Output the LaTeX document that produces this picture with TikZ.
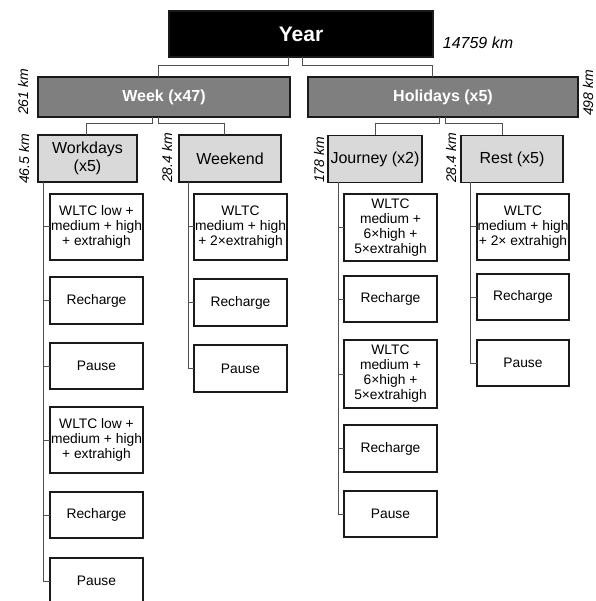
\documentclass[tikz,border=0pt]{standalone}
\usepackage{fontspec}
\setmainfont{Liberation Sans}
\definecolor{midgray}{HTML}{7F7F7F}
\definecolor{paleg}{HTML}{D9D9D9}
\definecolor{linkgray}{HTML}{505050}
\definecolor{edge}{HTML}{1A1A1A}
\begin{document}
\begin{tikzpicture}[x=1pt,y=-1pt,
  every node/.style={inner sep=0pt,outer sep=0pt},
  box/.style={draw=edge,line width=1.3pt,rectangle,align=center},
  topbox/.style={box,fill=black,text=white,font=\fontsize{21}{24}\selectfont\bfseries},
  midbox/.style={box,fill=midgray,text=white,font=\fontsize{16}{18}\selectfont\bfseries},
  subbox/.style={box,fill=paleg,font=\fontsize{16}{18}\selectfont},
  leaf/.style={box,fill=white,font=\fontsize{13.8}{15}\selectfont},
  kmlab/.style={font=\fontsize{14}{16}\selectfont\itshape,rotate=90},
  link/.style={draw=linkgray,line width=1pt}]
\useasboundingbox (0,0) rectangle (595,601);

% top levels
\node[topbox,minimum width=264pt,minimum height=46pt] (year) at (301,34) {Year};
\node[midbox,minimum width=252pt,minimum height=40pt] (week) at (164,97) {Week (x47)};
\node[midbox,minimum width=270pt,minimum height=40pt] (hol) at (443,97) {Holidays (x5)};
\node[subbox,minimum width=99pt,minimum height=47pt] (work) at (87.5,158.5) {Workdays\\(x5)};
\node[subbox,minimum width=102pt,minimum height=47pt] (wend) at (230,158.5) {Weekend};
\node[subbox,minimum width=94pt,minimum height=47pt] (jour) at (375,159) {Journey (x2)};
\node[subbox,minimum width=102pt,minimum height=47pt] (rest) at (512,159) {Rest (x5)};

% km labels
\node[font=\fontsize{16}{18}\selectfont\itshape] (k0) at (478,43) {14759 km};
\node[kmlab] (k1) at (23,92) {261 km};
\node[kmlab] (k2) at (588,93) {498 km};
\node[kmlab] (k3) at (24,159) {46.5 km};
\node[kmlab] (k4) at (167,158) {28.4 km};
\node[kmlab] (k5) at (319,160) {178 km};
\node[kmlab] (k6) at (451,158) {28.4 km};

% column 1 (workdays)
\node[leaf,minimum width=93pt,minimum height=66pt] (a1) at (96.5,227) {WLTC low +\\medium + high\\+ extrahigh};
\node[leaf,minimum width=93pt,minimum height=47pt] (a2) at (96.5,300.5) {Recharge};
\node[leaf,minimum width=93pt,minimum height=46pt] (a3) at (96.5,366) {Pause};
\node[leaf,minimum width=93pt,minimum height=66pt] (a4) at (96.5,440) {WLTC low +\\medium + high\\+ extrahigh};
\node[leaf,minimum width=93pt,minimum height=46pt] (a5) at (96.5,515) {Recharge};
\node[leaf,minimum width=93pt,minimum height=46pt] (a6) at (96.5,581) {Pause};

% column 2 (weekend)
\node[leaf,minimum width=93pt,minimum height=66pt] (b1) at (240.5,227) {WLTC\\medium + high\\+ 2×extrahigh};
\node[leaf,minimum width=93pt,minimum height=47pt] (b2) at (240.5,302.5) {Recharge};
\node[leaf,minimum width=93pt,minimum height=47pt] (b3) at (240.5,368.5) {Pause};

% column 3 (journey)
\node[leaf,minimum width=93pt,minimum height=67pt] (c1) at (390.5,227.5) {WLTC\\medium +\\6×high +\\5×extrahigh};
\node[leaf,minimum width=93pt,minimum height=46pt] (c2) at (390.5,299) {Recharge};
\node[leaf,minimum width=93pt,minimum height=68pt] (c3) at (390.5,374) {WLTC\\medium +\\6×high +\\5×extrahigh};
\node[leaf,minimum width=93pt,minimum height=47pt] (c4) at (390.5,448.5) {Recharge};
\node[leaf,minimum width=93pt,minimum height=46pt] (c5) at (390.5,514) {Pause};

% column 4 (rest)
\node[leaf,minimum width=92pt,minimum height=66pt] (d1) at (523,227) {WLTC\\medium + high\\+ 2× extrahigh};
\node[leaf,minimum width=92pt,minimum height=46pt] (d2) at (523,297) {Recharge};
\node[leaf,minimum width=92pt,minimum height=46pt] (d3) at (523,363) {Pause};

% tree connectors
\draw[link] ([xshift=-13pt]year.south) -- ++(0,9) -| ([xshift=-6pt]week.north);
\draw[link] ([xshift=1pt]year.south) -- ++(0,9) -| ([xshift=-11pt]hol.north);
\draw[link] ([xshift=-12pt]week.south) -- ++(0,7) -| ([xshift=-1.5pt]work.north);
\draw[link] ([xshift=-6pt]week.south) -- ++(0,7) -| ([xshift=-6pt]wend.north);
\draw[link] ([xshift=-4pt]hol.south) -- ++(0,7) -| (jour.north);
\draw[link] ([xshift=2pt]hol.south) -- ++(0,7) -| ([xshift=-10pt]rest.north);

% trunks
\coordinate (ta) at ([xshift=-7pt]a1.west);
\coordinate (tb) at ([xshift=-6pt]b1.west);
\coordinate (tc) at ([xshift=-6pt]c1.west);
\coordinate (td) at ([xshift=-7pt]d1.west);
\draw[link] (work.south -| ta) |- (a6.west);
\draw[link] (wend.south -| tb) |- (b3.west);
\draw[link] (jour.south -| tc) |- (c5.west);
\draw[link] (rest.south -| td) |- (d3.west);
\foreach \n in {a1,a2,a3,a4,a5} \draw[link] (\n.west) -- (\n.west -| ta);
\foreach \n in {b1,b2} \draw[link] (\n.west) -- (\n.west -| tb);
\foreach \n in {c1,c2,c3,c4} \draw[link] (\n.west) -- (\n.west -| tc);
\foreach \n in {d1,d2} \draw[link] (\n.west) -- (\n.west -| td);
\end{tikzpicture}
\end{document}
